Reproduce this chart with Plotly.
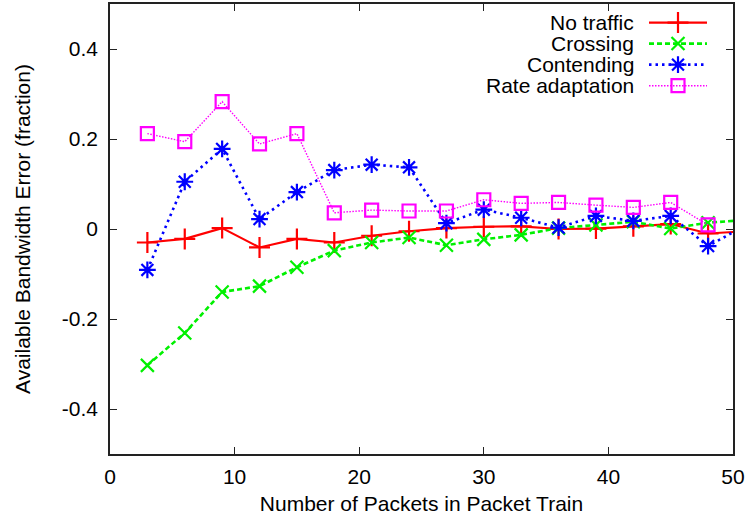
import plotly.graph_objects as go

x_vals = [3, 6, 9, 12, 15, 18, 21, 24, 27, 30, 33, 36, 39, 42, 45, 48, 51]
no_traffic = [-0.030, -0.022, 0.002, -0.041, -0.022, -0.030, -0.015, -0.005, 0.002, 0.005,
              0.006, 0.000, 0.001, 0.006, 0.011, -0.010, -0.005]
crossing = [-0.303, -0.231, -0.140, -0.127, -0.085, -0.048, -0.030, -0.019, -0.036, -0.023,
            -0.013, 0.002, 0.009, 0.016, 0.001, 0.014, 0.020]
contending = [-0.091, 0.105, 0.178, 0.022, 0.082, 0.131, 0.143, 0.137, 0.013, 0.043,
              0.025, 0.003, 0.029, 0.018, 0.029, -0.038, 0.008]
rate_adapt = [0.212, 0.194, 0.283, 0.189, 0.212, 0.036, 0.042, 0.040, 0.040, 0.065,
              0.057, 0.059, 0.053, 0.048, 0.059, 0.009]

series_names = ["No traffic", "Crossing", "Contending", "Rate adaptation"]
x_ticks = [0, 10, 20, 30, 40, 50]
y_ticks = [-0.4, -0.2, 0, 0.2, 0.4]
y_tick_text = ["-0.4", "-0.2", "0", "0.2", "0.4"]

styles = [
    dict(color="#ff0000", dash="solid", width=2.2, symbol="cross-thin-open", size=15),
    dict(color="#00f000", dash="5px,3px", width=2.6, symbol="x-thin-open", size=13),
    dict(color="#0000ff", dash="2.5px,4px", width=2.6, symbol="asterisk-open", size=14),
    dict(color="#ff00ff", dash="1.5px,1.5px", width=1.4, symbol="square-open", size=13),
]
data = [no_traffic, crossing, contending, rate_adapt]

FONT = "Liberation Sans, Arial, sans-serif"
FS = 21
fig = go.Figure()
for name, ys, st in zip(series_names, data, styles):
    fig.add_trace(go.Scatter(
        x=x_vals[:len(ys)], y=ys, mode="lines+markers", name=name, showlegend=False,
        line=dict(color=st["color"], dash=st["dash"], width=st["width"]),
        marker=dict(symbol=st["symbol"], size=st["size"], color=st["color"],
                    line=dict(color=st["color"], width=2.2)),
    ))

# custom legend (text right, sample on the right) on an overlay pixel axis
leg_rows = [23, 44, 65, 86]
for name, st, yy in zip(series_names, styles, leg_rows):
    fig.add_trace(go.Scatter(
        x=[649, 707], y=[yy, yy], xaxis="x2", yaxis="y2", mode="lines", showlegend=False,
        line=dict(color=st["color"], dash=st["dash"], width=st["width"]), hoverinfo="skip"))
    fig.add_trace(go.Scatter(
        x=[678], y=[yy], xaxis="x2", yaxis="y2", mode="markers", showlegend=False,
        marker=dict(symbol=st["symbol"], size=st["size"], color=st["color"],
                    line=dict(color=st["color"], width=2.2)), hoverinfo="skip"))
    fig.add_annotation(x=636, y=yy, xref="x2", yref="y2", text=name, showarrow=False,
                       xanchor="right", yanchor="middle",
                       font=dict(family=FONT, size=FS, color="black"))

axis_common = dict(showline=True, linecolor="#222222", linewidth=1.5, mirror="allticks",
                   ticks="inside", ticklen=7, tickwidth=1, tickcolor="#222222",
                   showgrid=False, zeroline=False, automargin=False,
                   tickfont=dict(family=FONT, size=FS, color="black"))

fig.update_layout(
    width=745, height=521,
    margin=dict(l=110, r=12, t=4, b=67),
    paper_bgcolor="white", plot_bgcolor="white",
    xaxis=dict(range=[0, 50], tickvals=x_ticks, ticklabelstandoff=3,
               title=dict(text="Number of Packets in Packet Train",
                          font=dict(family=FONT, size=FS, color="black"), standoff=9),
               **axis_common),
    yaxis=dict(range=[-0.5, 0.5], tickvals=y_ticks, ticktext=y_tick_text, ticklabelstandoff=6,
               title=dict(text="Available Bandwidth Error (fraction)",
                          font=dict(family=FONT, size=FS, color="black"), standoff=26),
               **axis_common),
    xaxis2=dict(range=[110, 733], overlaying="x", visible=False, domain=[0, 1]),
    yaxis2=dict(range=[453.5, 4.5], overlaying="y", visible=False),
)

fig.write_html("out.html", config={"displayModeBar": False},
               post_script="document.body.style.margin='0';")
